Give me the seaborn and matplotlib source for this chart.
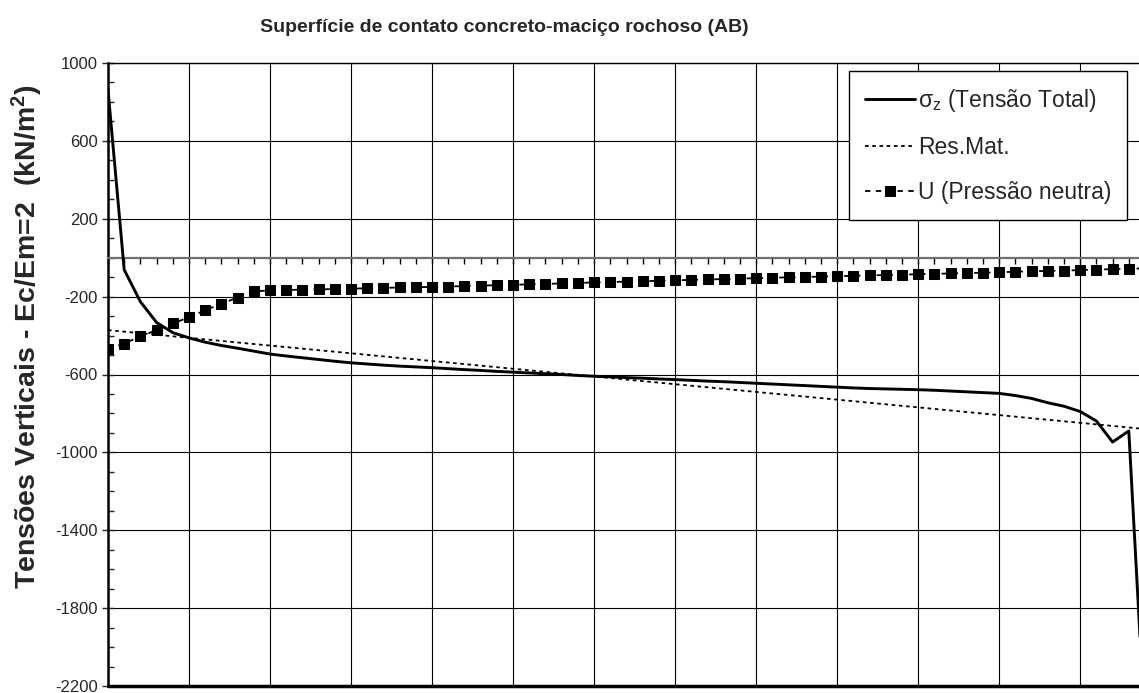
import numpy as np
import pandas as pd
import matplotlib
matplotlib.use("Agg")
import matplotlib.pyplot as plt
from matplotlib.ticker import MultipleLocator, NullFormatter
import seaborn as sns

# distance along the contact (one point per unit, grid every 5)
x_pos = list(range(0, 65))

sigma_z = [862, -62, -226, -333, -385, -412, -434, -451, -465, -480,
           -495, -505, -514, -523, -532, -540, -546, -552, -557, -561,
           -565, -570, -575, -579, -584, -588, -592, -596, -600, -605,
           -609, -612, -616, -619, -623, -626, -630, -634, -637, -641,
           -645, -649, -653, -657, -661, -665, -669, -672, -674, -676,
           -678, -681, -685, -689, -693, -697, -708, -723, -745, -763,
           -790, -839, -947, -890, -2420]

u_neutra = [-470, -441, -404, -372, -338, -306, -270, -236, -205, -173,
            -168, -166, -164, -163, -161, -159, -157, -155, -153, -152,
            -150, -148, -146, -144, -141, -139, -137, -135, -132, -130,
            -127, -125, -123, -121, -119, -116, -114, -112, -110, -108,
            -105, -103, -101, -99, -97, -95, -93, -91, -89, -87,
            -85, -83, -81, -79, -77, -75, -72, -70, -68, -66,
            -64, -61, -59, -57, -55]

resmat_x = [0, 64]
resmat_y = [-372, -880]

title = "Superfície de contato concreto-maciço rochoso (AB)"
ylabel = "Tensões Verticais - Ec/Em=2  (kN/m$^\\mathregular{2}$)"
labels = ["σ$_\\mathregular{z}$ (Tensão Total)", "Res.Mat.", "U (Pressão neutra)"]

sns.set_style("white")
plt.rcParams["font.family"] = ["Liberation Sans", "DejaVu Sans"]
plt.rcParams["mathtext.default"] = "regular"
plt.rcParams["axes.unicode_minus"] = False

df = pd.DataFrame({"x": x_pos, "sigma": sigma_z, "u": u_neutra})
df_rm = pd.DataFrame({"x": resmat_x, "y": resmat_y})

fig = plt.figure(figsize=(11.39, 6.93), dpi=100)
ax = fig.add_axes([108 / 1139, 7 / 693, 1037 / 1139, 623 / 693])

sns.lineplot(data=df, x="x", y="sigma", ax=ax, color="black", linewidth=2.1,
             label=labels[0], zorder=4)
sns.lineplot(data=df_rm, x="x", y="y", ax=ax, color="black", linewidth=1.3,
             linestyle=(0, (2, 2)), label=labels[1], zorder=3)
sns.lineplot(data=df, x="x", y="u", ax=ax, color="black", linewidth=1.3,
             linestyle=(0, (3, 3)), marker="s", markersize=7.5,
             markeredgecolor="black", label=labels[2], zorder=5)

ax.set_xlim(0, 64)
ax.set_ylim(-2200, 1000)
ax.yaxis.set_major_locator(MultipleLocator(400))
ax.yaxis.set_minor_locator(MultipleLocator(100))
ax.xaxis.set_major_locator(MultipleLocator(5))
ax.xaxis.set_minor_locator(MultipleLocator(1))
ax.xaxis.set_major_formatter(NullFormatter())
ax.set_yticks(np.arange(-2200, 1001, 400))

ax.grid(True, which="major", color="black", linewidth=0.8)
ax.set_axisbelow(True)

# x axis crosses at zero
ax.spines["bottom"].set_position(("data", 0))
ax.spines["bottom"].set_color("#707070")
ax.spines["bottom"].set_linewidth(1.6)
ax.spines["left"].set_linewidth(1.8)
ax.spines["left"].set_color("black")
ax.spines["top"].set_linewidth(1.0)
ax.spines["top"].set_color("black")
ax.spines["right"].set_visible(False)
ax.axhline(-2200, color="black", linewidth=2.5, zorder=6, clip_on=False)

ax.tick_params(axis="x", which="both", direction="out", length=4, width=1,
               color="black", bottom=True)
ax.tick_params(axis="y", which="major", direction="inout", length=9, width=1,
               labelsize=12, pad=3, left=True)
ax.tick_params(axis="y", which="minor", direction="in", length=4, width=1,
               left=True)

ax.set_xlabel("")
ax.set_ylabel("")

leg = ax.legend(loc="upper left", bbox_to_anchor=(849 / 1139, 1 - 71 / 693),
                bbox_transform=fig.transFigure, fontsize=16.5, frameon=True,
                fancybox=False, framealpha=1, edgecolor="black",
                handlelength=2.2, handletextpad=0.1, labelspacing=0.95,
                borderpad=0.7, borderaxespad=0)
leg.get_frame().set_linewidth(1.0)
leg.set_zorder(10)

fig.text(504 / 1139, 1 - 27 / 693, title, ha="center", va="center",
         fontsize=14, fontweight="bold")
fig.text(27 / 1139, 1 - 337 / 693, ylabel, ha="center", va="center",
         rotation=90, fontsize=20.5, fontweight="bold")

fig.savefig("out.png", dpi=100)
